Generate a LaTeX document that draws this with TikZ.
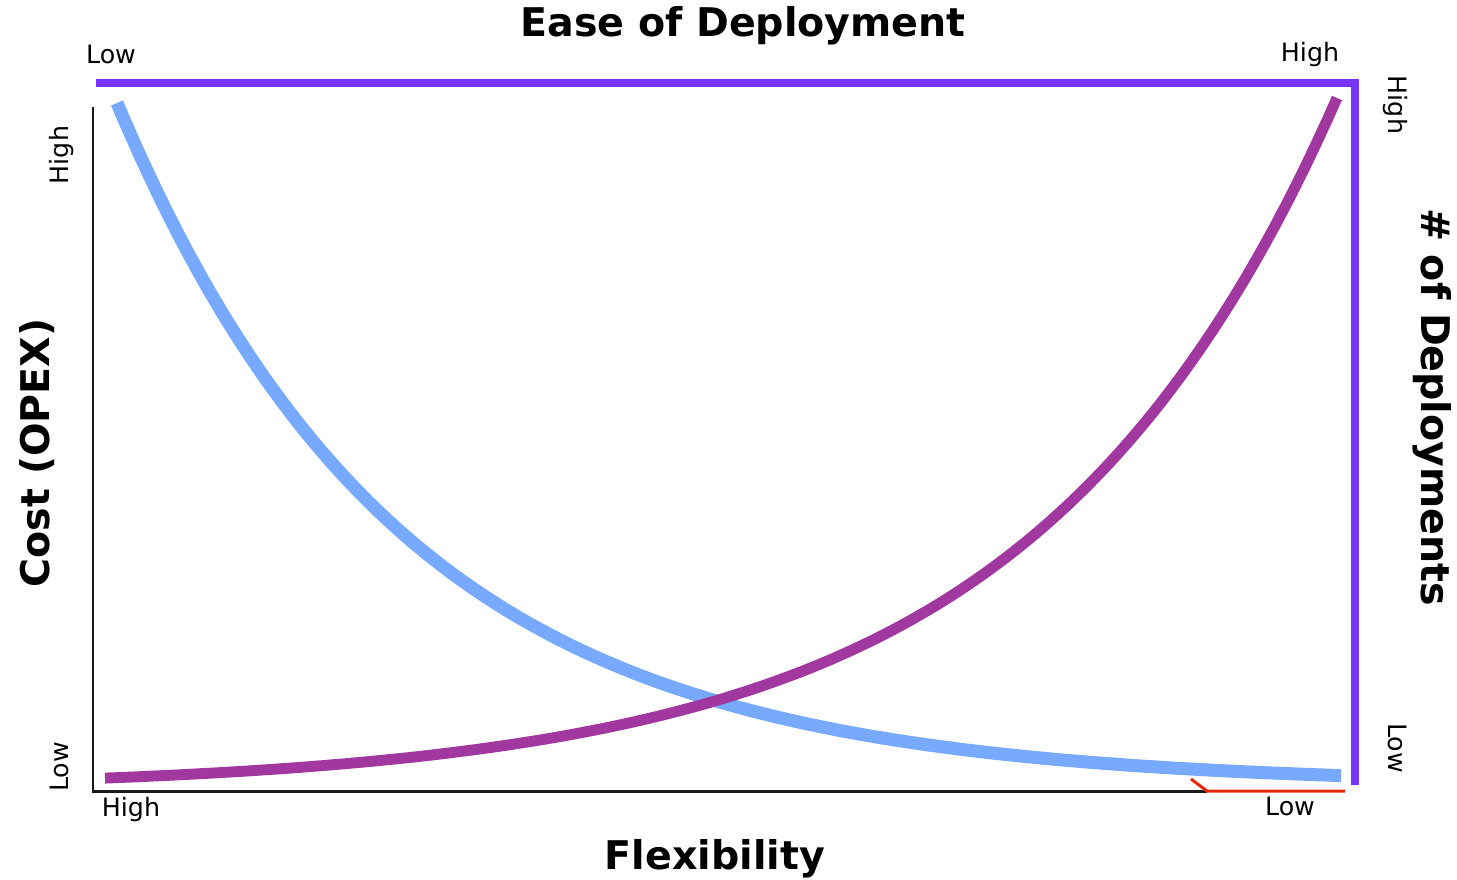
\documentclass[tikz,border=0pt]{standalone}
\usepackage{fontspec}
\setmainfont{DejaVu Sans}
\usepackage{tikz}
\usetikzlibrary{%
   calc,%
   positioning}

\definecolor{costblue}{RGB}{119,170,255}
\definecolor{deploypurple}{RGB}{160,56,160}
\definecolor{easeframe}{RGB}{119,51,255}
\definecolor{lowred}{RGB}{232,38,12}

\begin{document}
\begin{tikzpicture}
[x=0.02cm, y=-0.02cm,
 axis/.style={draw=black!90,line width=1.7pt},
 redaxis/.style={draw=lowred,line width=1.7pt},
 frame/.style={draw=easeframe,line width=4.5pt},
 costline/.style={draw=costblue,line width=7.4pt},
 deployline/.style={draw=deploypurple,line width=6.2pt},
 lblH/.style={font=\fontsize{14.4}{16}\selectfont,inner sep=0pt,anchor=base},
 lblV/.style={lblH,rotate=90},
 lblR/.style={lblH,rotate=-90},
 titleH/.style={font=\bfseries\fontsize{22.5}{26}\selectfont,inner sep=0pt,anchor=base},
 titleV/.style={titleH,rotate=90},
 titleR/.style={titleH,rotate=-90}]
\useasboundingbox (0,0) rectangle (1457,879);
% axes and frame
\coordinate (yTop)    at (  93, 107);
\coordinate (origin)  at (  93, 791);
\coordinate (xRed)    at (1207, 791);
\coordinate (xEnd)    at (1345, 791);
\coordinate (redKink) at (1191, 779);
\coordinate (fStart)  at (  96,  83);
\coordinate (fCorner) at (1355,  83);
\coordinate (fEnd)    at (1355, 785);
\draw[axis]    (yTop) -- (origin) -- (xRed);
\draw[redaxis] (redKink) -- (xRed) -- (xEnd);
\draw[frame]   (fStart) -- (fCorner) -- (fEnd);
% curves
\draw[costline] plot[domain=117:1341, samples=120]
   (\x, {785-682*exp(-0.0035*(\x-117))});
\draw[deployline] plot[domain=105:1337, samples=120]
   (\x, {790-692*exp(0.0033*(\x-1337))});
% titles
\node[titleH] (ease)  at ( 743,  36) {Ease of Deployment};
\node[titleH] (flex)  at ( 715, 869) {Flexibility};
\node[titleV] (cost)  at (  50, 453) {Cost (OPEX)};
\node[titleR] (count) at (1421, 407) {\# of Deployments};
% low / high marks
\node[lblH] (easeLow)   at ( 111,  63) {Low};
\node[lblH] (easeHigh)  at (1310,  61) {High};
\node[lblV] (costHigh)  at (  68, 155) {High};
\node[lblV] (costLow)   at (  68, 767) {Low};
\node[lblH] (flexHigh)  at ( 131, 816) {High};
\node[lblH] (flexLow)   at (1290, 815) {Low};
\node[lblR] (countHigh) at (1388, 105) {High};
\node[lblR] (countLow)  at (1388, 748) {Low};
\end{tikzpicture}
\end{document}
